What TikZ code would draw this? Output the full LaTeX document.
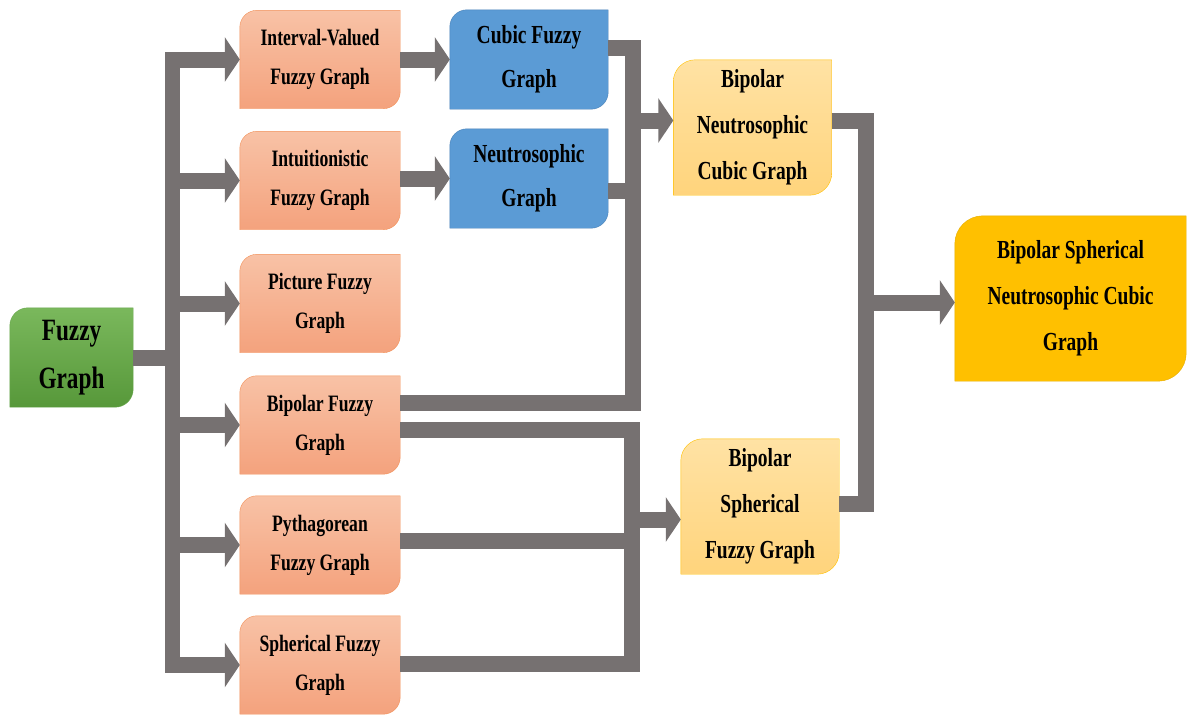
\documentclass[tikz,border=0pt]{standalone}
\usepackage{fontspec}
\setmainfont{Liberation Serif}[FakeStretch=0.75]
\usetikzlibrary{arrows.meta,calc}
\pgfdeclarelayer{bg}\pgfsetlayers{bg,main}
\definecolor{barc}{HTML}{767171}
\definecolor{gtop}{HTML}{7AB85C}\definecolor{gbot}{HTML}{57983A}\definecolor{gbrd}{HTML}{6AA84F}
\definecolor{otop}{HTML}{F8C2A6}\definecolor{obot}{HTML}{F4A27D}\definecolor{obrd}{HTML}{F29058}
\definecolor{bfill}{HTML}{5B9BD5}\definecolor{bbrd}{HTML}{4A82B8}
\definecolor{ytop}{HTML}{FFE2A4}\definecolor{ybot}{HTML}{FFD47C}\definecolor{ybrd}{HTML}{FFC000}
\definecolor{gold}{HTML}{FFC000}\definecolor{goldbrd}{HTML}{E5AD00}
\newcommand\boxshape[3]{%
 \path[#1] (#2.south west) -- ($(#2.north west)+(0,#3)$)
  .. controls ($(#2.north west)+(0,0.45*#3)$) and ($(#2.north west)+(0.45*#3,0)$) .. ($(#2.north west)+(#3,0)$)
  -- (#2.north east) -- ($(#2.south east)+(0,-#3)$)
  .. controls ($(#2.south east)+(0,-0.45*#3)$) and ($(#2.south east)+(-0.45*#3,0)$) .. ($(#2.south east)+(-#3,0)$) -- cycle;}
\tikzset{
 txt/.style={inner sep=0pt, align=center},
 gbox/.style={txt, minimum width=123pt, minimum height=99pt, font=\bfseries\fontsize{31}{48}\selectfont},
 obox/.style={txt, minimum width=160pt, minimum height=98pt, font=\bfseries\fontsize{23.5}{39}\selectfont},
 bbox/.style={txt, minimum width=158pt, minimum height=99pt, font=\bfseries\fontsize{26}{44}\selectfont},
 ybox/.style={txt, minimum width=158pt, minimum height=135pt, font=\bfseries\fontsize{26}{46}\selectfont},
 fbox/.style={txt, minimum width=231pt, minimum height=165pt, font=\bfseries\fontsize{26}{46}\selectfont},
 bar/.style={draw=barc, line width=16pt},
 arr/.style={bar, -{Triangle[length=15pt,width=44pt]}},
}
\begin{document}
\begin{tikzpicture}[x=1pt,y=-1pt]
\useasboundingbox (0,0) rectangle (1194,715);
% nodes
\node[gbox] (fg) at (71.5,357.5) {Fuzzy\\Graph};
\node[obox] (iv) at (320,59.5) {Interval-Valued\\Fuzzy Graph};
\node[obox] (ifg) at (320,180.5) {Intuitionistic\\Fuzzy Graph};
\node[obox] (pfg) at (320,303.5) {Picture Fuzzy\\Graph};
\node[obox] (bfg) at (320,425) {Bipolar Fuzzy\\Graph};
\node[obox] (pyf) at (320,545) {Pythagorean\\Fuzzy Graph};
\node[obox] (sfg) at (320,665) {Spherical Fuzzy\\Graph};
\node[bbox] (cfg) at (529,59.5) {Cubic Fuzzy\\Graph};
\node[bbox] (ng) at (529,178.5) {Neutrosophic\\Graph};
\node[ybox] (bncg) at (752.5,127.5) {Bipolar\\Neutrosophic\\Cubic Graph};
\node[ybox] (bsfg) at (760,506.5) {Bipolar\\Spherical\\Fuzzy Graph};
\node[fbox] (bsncg) at (1070.5,298.5) {Bipolar Spherical\\Neutrosophic Cubic\\Graph};
% shapes
\begin{pgfonlayer}{bg}
\boxshape{draw=gbrd, top color=gtop, bottom color=gbot}{fg}{18}
\foreach \n in {iv,ifg,pfg,bfg,pyf,sfg}{\boxshape{draw=obrd, top color=otop, bottom color=obot}{\n}{17}}
\foreach \n in {cfg,ng}{\boxshape{draw=bbrd, fill=bfill}{\n}{17}}
\foreach \n in {bncg,bsfg}{\boxshape{draw=ybrd, top color=ytop, bottom color=ybot}{\n}{22}}
\boxshape{draw=goldbrd, fill=gold}{bsncg}{28}
\end{pgfonlayer}
% trunk from fuzzy graph
\coordinate (tr) at (172,0);
\draw[bar] (fg.east) -- (tr |- fg.east);
\draw[bar, line width=15pt, line cap=rect] (tr |- iv.west) -- (tr |- sfg.west);
\foreach \n in {iv,ifg,pfg,bfg,pyf,sfg}{\draw[arr] (tr |- \n.west) -- (\n.west);}
\draw[arr] (iv.east) -- (cfg.west);
\draw[arr] (ng.west -| ifg.east) -- (ng.west);
% bus 1
\coordinate (b1) at (633,0);
\draw[bar] ($(cfg.east)+(0,-12)$) -| ($(b1 |- bfg.east)+(0,-22)$) -- ($(bfg.east)+(0,-22)$);
\draw[bar] ($(ng.east)+(0,12)$) -- ($(b1 |- ng.east)+(0,12)$);
\draw[arr] ($(b1 |- bncg.west)+(0,-7)$) -- ($(bncg.west)+(0,-7)$);
% bus 2
\coordinate (b2) at (632,0);
\draw[bar] ($(bfg.east)+(0,5)$) -| ($(b2 |- sfg.east)+(0,-1)$) -- ($(sfg.east)+(0,-1)$);
\draw[bar] ($(pyf.east)+(0,-4)$) -- ($(b2 |- pyf.east)+(0,-4)$);
\draw[arr] ($(b2 |- bsfg.west)+(0,13)$) -- ($(bsfg.west)+(0,13)$);
% bus 3
\coordinate (b3) at (866,0);
\draw[bar] ($(bncg.east)+(0,-7)$) -| ($(b3 |- bsfg.east)+(0,-3)$) -- ($(bsfg.east)+(0,-3)$);
\draw[arr] ($(b3 |- bsncg.west)+(0,4)$) -- ($(bsncg.west)+(0,4)$);
\end{tikzpicture}
\end{document}
